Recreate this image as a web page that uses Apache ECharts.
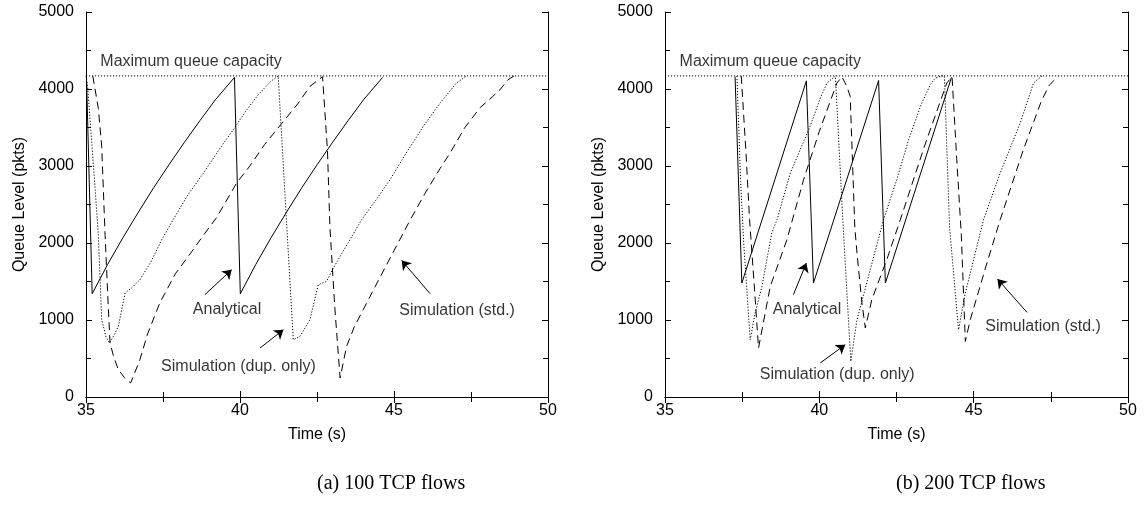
<!DOCTYPE html>
<html>
<head>
<meta charset="utf-8">
<script src="https://cdn.jsdelivr.net/npm/echarts@6/dist/echarts.min.js"></script>
<style>
html,body{margin:0;padding:0;background:#fff;}
#c{width:1144px;height:523px;}
</style>
</head>
<body>
<div id="c"></div>
<script>
// ---------- data ----------
const xTicks = [35, 40, 45, 50];
const yTicks = [0, 1000, 2000, 3000, 4000, 5000];
const capacity = 4170;

// (a) 100 TCP flows
const a_analytical = [[35.02,4100],[35.2,1341],[35.7,1720],[36.2,2070],[36.7,2400],[37.2,2720],[37.7,3020],[38.2,3310],[38.7,3590],[39.2,3860],[39.82,4150],
  [40.01,1341],[40.51,1720],[41.01,2070],[41.51,2400],[42.01,2720],[42.51,3020],[43.01,3310],[43.51,3590],[44.01,3860],[44.63,4150]];
const a_dup = [[35.0,4170],[35.05,4050],[35.15,3500],[35.28,2800],[35.40,2100],[35.51,1004],[35.65,780],[35.76,701],[35.89,787],[36.05,917],[36.27,1351],[36.48,1416],[36.75,1523],[37.1,1750],[37.46,2043],[37.83,2303],[38.3,2620],[38.8,2900],[39.3,3200],[39.78,3471],[40.2,3720],[40.6,3930],[41.0,4100],[41.24,4170],
  [41.51,2283],[41.73,744],[41.95,787],[42.27,1004],[42.54,1458],[42.81,1501],[43.03,1675],[43.57,2043],[43.95,2303],[44.4,2550],[44.87,2822],[45.4,3170],[45.95,3514],[46.5,3820],[47.03,4078],[47.36,4170]];
const a_std = [[35.22,4170],[35.40,3750],[35.51,3255],[35.62,2100],[35.72,1200],[35.78,706],[35.9,520],[36.05,355],[36.25,250],[36.45,182],[36.75,484],[37.0,820],[37.4,1225],[37.9,1600],[38.48,1913],[38.81,2100],[39.24,2330],[39.89,2779],[40.32,3000],[40.8,3280],[41.35,3550],[41.9,3820],[42.27,4034],[42.68,4160],[42.74,4165],
  [42.84,3200],[42.92,2200],[43.08,1150],[43.25,247],[43.46,657],[43.7,900],[44.0,1134],[44.5,1520],[45.0,1900],[45.5,2280],[46.0,2640],[46.5,2970],[46.82,3169],[47.3,3500],[47.8,3760],[48.2,3900],[48.44,3990],[48.7,4120],[48.9,4170]];

// (b) 200 TCP flows
const b_analytical = [[37.27,4160],[37.49,1480],[39.58,4105],[39.81,1480],[41.92,4110],[42.14,1480],[44.28,4150]];
const b_dup = [[37.33,4170],[37.45,2800],[37.55,2000],[37.76,744],[37.92,1091],[38.14,1436],[38.46,2130],[38.63,2303],[39.06,2909],[39.70,3514],[40.05,3900],[40.25,4078],[40.52,4170],
  [40.76,2303],[41.02,462],[41.22,1004],[41.65,1653],[42.08,2303],[42.51,2822],[42.9,3350],[43.3,3800],[43.6,4060],[43.75,4140],[43.95,4170],
  [44.05,4170],[44.22,2200],[44.51,874],[44.73,1351],[45.32,2303],[45.86,2909],[46.5,3550],[46.94,4078],[47.21,4170]];
const b_std = [[37.47,4170],[37.62,3200],[37.74,2303],[37.9,1400],[38.03,636],[38.41,1436],[38.95,2043],[39.49,2822],[40.0,3450],[40.57,4078],[40.73,4160],[40.89,4034],[41.0,3904],[41.15,2200],[41.22,1870],[41.38,1221],[41.49,896],
  [41.70,1264],[42.2,1800],[42.68,2370],[43.4,3250],[44.13,4078],[44.30,4160],[44.45,3100],[44.60,2100],[44.73,722],
  [44.89,1004],[45.4,1700],[45.86,2303],[46.6,3200],[47.2,3850],[47.45,4050],[47.75,4170]];

// annotation texts
const capLabel = 'Maximum queue capacity';
const lblAnalytical = 'Analytical';
const lblDup = 'Simulation (dup. only)';
const lblStd = 'Simulation (std.)';
const captions = ['(a) 100 TCP flows', '(b) 200 TCP flows'];
const xName = 'Time (s)';
const yName = 'Queue Level (pkts)';

// annotation placement (data coordinates)
const notes = [
  { texts: [[38.41,4358,capLabel],[39.58,1134,lblAnalytical],[39.95,397,lblDup],[47.05,1125,lblStd]],
    arrows: [[[38.86,1329],[39.73,1653]],[[40.65,636],[41.41,874]],[[46.17,1342],[45.25,1774]]] },
  { texts: [[38.41,4358,capLabel],[39.60,1134,lblAnalytical],[40.58,290,lblDup],[47.25,909,lblStd]],
    arrows: [[[39.16,1329],[39.58,1740]],[[40.03,442],[40.84,680]],[[46.73,1099],[45.77,1532]]] }
];

// ---------- chart ----------
const FONT = 'Liberation Sans, Arial, Helvetica, sans-serif';
const chart = echarts.init(document.getElementById('c'), null, {renderer:'canvas'});
const grids = [
  {left:86, top:12, width:462, height:385},
  {left:665, top:12, width:463, height:385}
];
const axisLineStyle = {show:true, lineStyle:{color:'#000', width:1}};
function xAx(g, pos, labels){
  return {type:'value', gridIndex:g, position:pos, min:xTicks[0], max:xTicks[xTicks.length-1], interval:xTicks[1]-xTicks[0],
    axisLine:axisLineStyle, axisTick:{show:true, inside:true, length:6, lineStyle:{color:'#000'}},
    minorTick:{show:true, splitNumber:2, length:5, lineStyle:{color:'#000'}},
    splitLine:{show:false}, minorSplitLine:{show:false},
    axisLabel:{show:labels, color:'#000', fontSize:16, fontFamily:FONT, margin:6, formatter:v=>String(v)},
    name: labels ? xName : '', nameLocation:'middle', nameGap:30,
    nameTextStyle:{color:'#000', fontSize:16, fontFamily:FONT}};
}
function yAx(g, pos, labels){
  return {type:'value', gridIndex:g, position:pos, min:yTicks[0], max:yTicks[yTicks.length-1], interval:yTicks[1]-yTicks[0],
    axisLine:axisLineStyle, axisTick:{show:true, inside:true, length:6, lineStyle:{color:'#000'}},
    minorTick:{show:true, splitNumber:2, length:5, lineStyle:{color:'#000'}},
    splitLine:{show:false}, minorSplitLine:{show:false},
    axisLabel:{show:labels, color:'#000', fontSize:16, fontFamily:FONT, margin:12, formatter:v=>String(v)},
    name: labels ? yName : '', nameLocation:'middle', nameGap:58,
    nameTextStyle:{color:'#000', fontSize:16, fontFamily:FONT}};
}
const xAxis = [xAx(0,'bottom',true), xAx(1,'bottom',true), xAx(0,'top',false), xAx(1,'top',false)];
const yAxis = [yAx(0,'left',true), yAx(1,'left',true), yAx(0,'right',false), yAx(1,'right',false)];

function lineSeries(data, g, type){
  return {type:'line', data:data, xAxisIndex:g, yAxisIndex:g, showSymbol:false, symbol:'none', smooth:false,
    lineStyle:{color:'#000', width:1, type:type}, silent:true, z:3};
}
const series = [];
const sets = [[a_analytical, a_dup, a_std],[b_analytical, b_dup, b_std]];
for (let g=0; g<2; g++){
  series.push(lineSeries([[xTicks[0],capacity],[xTicks[xTicks.length-1],capacity]], g, [1.2,1.8]));
  series.push(lineSeries(sets[g][0], g, 'solid'));
  series.push(lineSeries(sets[g][1], g, [1.2,1.8]));
  series.push(lineSeries(sets[g][2], g, [8,5]));
  series.push({type:'scatter', xAxisIndex:g, yAxisIndex:g, silent:true, symbolSize:1,
    itemStyle:{color:'rgba(0,0,0,0)'},
    data: notes[g].texts.map(t=>({value:[t[0],t[1]], name:t[2]})),
    label:{show:true, position:'inside', formatter:'{b}', color:'#000', fontSize:16, fontFamily:FONT},
    markLine:{silent:true, symbol:['none','arrow'], symbolSize:9, animation:false,
      lineStyle:{color:'#000', width:1, type:'solid'}, label:{show:false},
      data: notes[g].arrows.map(a=>[{coord:a[0]},{coord:a[1]}])}
  });
}

chart.setOption({
  animation:false,
  grid:grids,
  xAxis:xAxis,
  yAxis:yAxis,
  series:series,
  graphic:[
    {type:'text', left:317, top:474, style:{text:captions[0], font:'20px "Liberation Serif", "Times New Roman", serif', fill:'#000', textAlign:'center'}},
    {type:'text', left:896, top:474, style:{text:captions[1], font:'20px "Liberation Serif", "Times New Roman", serif', fill:'#000', textAlign:'center'}}
  ]
});
</script>
</body>
</html>
